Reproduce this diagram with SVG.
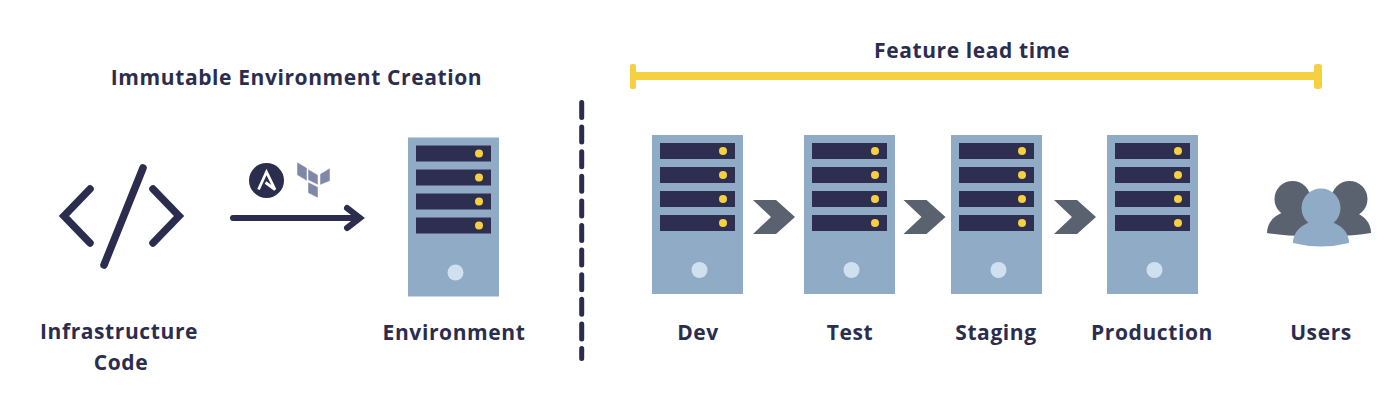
<svg xmlns="http://www.w3.org/2000/svg" width="1400" height="420" viewBox="0 0 1400 420">
<style>
.t{font-family:"Open Sans","Liberation Sans",sans-serif;font-weight:700;font-size:21px;fill:#2b2d4f;text-anchor:middle;letter-spacing:.6px}
.line{fill:none;stroke:#2b2d4f;stroke-linecap:round;stroke-linejoin:miter}
.case{fill:#90abc5}.bar{fill:#2e2e50}.led{fill:#f5d142}.pwr{fill:#cfe0ef}.chev{fill:#5a616f}
.y{fill:#f5d142}
</style>
<defs>
<g id="server">
<rect class="case" width="91" height="159"/>
<rect class="bar" x="8" y="8" width="75" height="16"/>
<rect class="bar" x="8" y="32" width="75" height="16"/>
<rect class="bar" x="8" y="56" width="75" height="16"/>
<rect class="bar" x="8" y="80" width="75" height="16"/>
<circle class="led" cx="71" cy="16" r="4"/>
<circle class="led" cx="71" cy="40" r="4"/>
<circle class="led" cx="71" cy="64" r="4"/>
<circle class="led" cx="71" cy="88" r="4"/>
<circle class="pwr" cx="47.500" cy="135" r="8"/>
</g>
<polygon id="chevron" class="chev" points="0,0 23,0 42,17 23,34 0,34 18,17"/>
</defs>
<rect width="1400" height="420" fill="#fff"/>
<text class="t" x="296.500" y="85">Immutable Environment Creation</text>
<text class="t" x="972" y="58">Feature lead time</text>
<g id="code">
<path class="line" stroke-width="7.500" d="M90 189 L64 216 L90 243M153 189 L179 216 L153 243M143 168 L104 265"/>
<text class="t" x="119" y="339">Infrastructure</text>
<text class="t" x="121" y="370">Code</text>
</g>
<g id="tools">
<circle cx="266.500" cy="180.500" r="17.500" fill="#2b2d4f"/>
<path d="M258.500 189.500 L266.500 172 L275 189.500 L265.500 182.500" fill="none" stroke="#fff" stroke-width="2.800"/>
<g fill="#7f88a8" stroke="#fff" stroke-width=".5">
<polygon points="297,162 307,168 307,181 297,175"/>
<polygon points="308,169 318,175 318,185 308,180"/>
<polygon points="320,174 330,168 330,181 320,185"/>
<polygon points="308,182 318,187 318,198 308,193"/>
</g>
</g>
<g id="environment">
<use href="#server" x="408" y="137.500"/>
<text class="t" x="454" y="340">Environment</text>
</g>
<g id="divider"><line x1="581.700" y1="102.500" x2="581.700" y2="358.500" stroke="#2b2d4f" stroke-width="5" stroke-linecap="round" stroke-dasharray="15 9.600"/></g>
<g id="leadtime">
<rect class="y" x="630" y="64" width="6" height="25" rx="2"/>
<rect class="y" x="632" y="72" width="688" height="8"/>
<rect class="y" x="1314" y="64" width="8" height="25" rx="3"/>
</g>
<g id="dev"><use href="#server" x="652" y="135"/><text class="t" x="698" y="340">Dev</text></g>
<g id="test"><use href="#server" x="804" y="135"/><text class="t" x="850" y="340">Test</text></g>
<g id="staging"><use href="#server" x="951" y="135"/><text class="t" x="996" y="340">Staging</text></g>
<g id="production"><use href="#server" x="1107" y="135"/><text class="t" x="1152" y="340">Production</text></g>
<g id="users">
<g class="chev">
<circle cx="1292.500" cy="199" r="18"/>
<circle cx="1349.500" cy="199" r="18"/>
<path d="M1267 233 C1267 222 1275 215 1284 212 L1310 212 L1310 236 Q1285 236 1267 233Z"/>
<path d="M1371 233 C1371 222 1363 215 1354 212 L1330 212 L1330 236 Q1355 236 1371 233Z"/>
</g>
<circle cx="1321" cy="208" r="19.500" fill="#90abc5"/>
<path fill="#90abc5" d="M1293 243 C1293 232 1301 225 1311 222 L1331 222 C1341 225 1349 232 1349 243 Q1321 250 1293 243Z"/>
<text class="t" x="1321" y="340">Users</text>
</g>
<g id="connectors">
<path class="line" stroke-width="6" d="M233 218 H359M347 208 L360 218 L347 228"/>
<use href="#chevron" x="753" y="200"/>
<use href="#chevron" x="903.500" y="200"/>
<use href="#chevron" x="1054" y="200"/>
</g>
</svg>
